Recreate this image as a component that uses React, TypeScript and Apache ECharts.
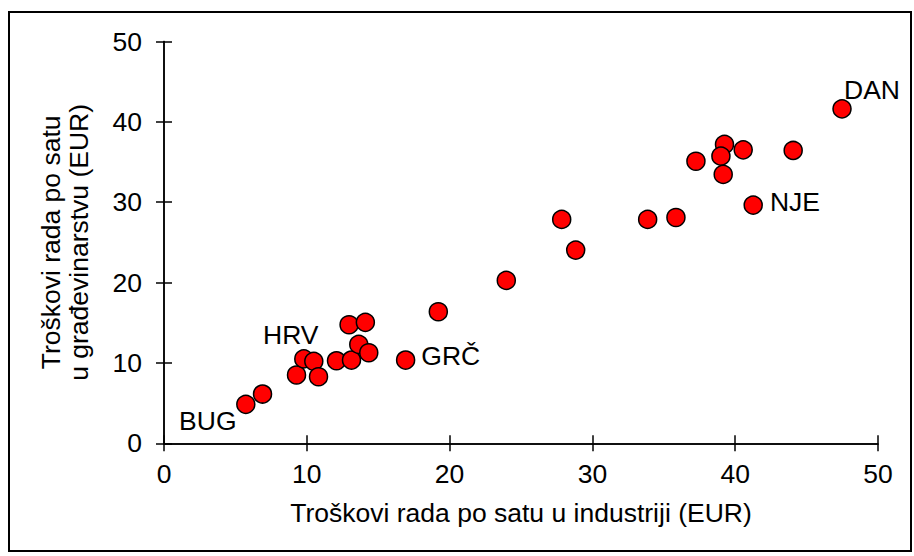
import React, { useEffect, useRef } from "react";
import * as echarts from "echarts";

const industryCost: number[] = [
  5.73, 6.9, 9.28, 9.79, 10.49, 10.82, 12.08, 12.96, 13.13, 13.64, 14.1, 14.34,
  16.92, 19.21, 23.97, 27.85, 28.83, 33.87, 35.85, 37.25, 39.25, 39.0, 40.56,
  39.16, 44.06, 41.26, 47.48,
];
const constructionCost: number[] = [
  4.85, 6.13, 8.5, 10.5, 10.2, 8.28, 10.27, 14.75, 10.36, 12.31, 15.05, 11.27,
  10.36, 16.37, 20.27, 27.86, 24.04, 27.86, 28.1, 35.1, 37.19, 35.73, 36.52,
  33.46, 36.44, 29.64, 41.62,
];
const pointLabels: string[] = [
  "BUG", "", "", "HRV", "", "", "", "", "", "", "", "",
  "GRČ", "", "", "", "", "", "", "", "", "", "",
  "", "", "NJE", "DAN",
];
const axisTicks: number[] = [0, 10, 20, 30, 40, 50];
const xTitle = "Troškovi rada po satu u industriji (EUR)";
const yTitle = "Troškovi rada po satu\nu građevinarstvu (EUR)";

const FONT = "'Liberation Sans', Arial, sans-serif";
const FS = 26.5;

const labelPlacement: Record<string, any> = {
  BUG: { position: "inside", offset: [-38, 17] },
  HRV: { position: "inside", offset: [-13, -24] },
  "GRČ": { position: "right", distance: 6, offset: [0, -4] },
  NJE: { position: "right", distance: 7, offset: [0, -3] },
  DAN: { position: "inside", offset: [30, -19] },
};

export default function App() {
  const ref = useRef<HTMLDivElement>(null);
  useEffect(() => {
    if (!ref.current) return;
    const chart = echarts.init(ref.current, undefined, { renderer: "svg" });
    const minV = axisTicks[0];
    const maxV = axisTicks[axisTicks.length - 1];
    const step = axisTicks[1] - axisTicks[0];
    const data = industryCost.map((x, i) => {
      const name = pointLabels[i];
      const item: any = { value: [x, constructionCost[i]], name };
      if (name) {
        item.label = {
          show: true,
          formatter: name,
          color: "#000",
          fontFamily: FONT,
          fontSize: FS,
          ...labelPlacement[name],
        };
      }
      return item;
    });
    const baseAxis = {
      type: "value",
      min: minV,
      max: maxV,
      interval: step,
      splitLine: { show: false },
      axisLine: { show: true, onZero: false, lineStyle: { color: "#000", width: 1.5 } },
    };
    chart.setOption({
      animation: false,
      backgroundColor: "#fff",
      graphic: [
        {
          type: "rect",
          shape: { x: 9, y: 12, width: 902, height: 539 },
          style: { fill: "none", stroke: "#000", lineWidth: 2 },
          z: 100,
        },
      ],
      grid: { left: 164, right: 36, top: 41.5, bottom: 112.7, containLabel: false },
      xAxis: [
        {
          ...baseAxis,
          position: "bottom",
          name: xTitle,
          nameLocation: "middle",
          nameGap: 56,
          nameTextStyle: { color: "#000", fontFamily: FONT, fontSize: FS },
          axisTick: { show: true, inside: false, length: 8, lineStyle: { color: "#000", width: 1.5 } },
          axisLabel: { color: "#000", fontFamily: FONT, fontSize: FS, margin: 17 },
        },
        {
          ...baseAxis,
          position: "bottom",
          axisTick: { show: true, inside: true, length: 8, lineStyle: { color: "#000", width: 1.5 } },
          axisLabel: { show: false },
        },
      ],
      yAxis: [
        {
          ...baseAxis,
          position: "left",
          name: yTitle,
          nameLocation: "middle",
          nameRotate: 90,
          nameGap: 71,
          nameTextStyle: { color: "#000", fontFamily: FONT, fontSize: FS, lineHeight: 28, align: "center" },
          axisTick: { show: true, inside: false, length: 8, lineStyle: { color: "#000", width: 1.5 } },
          axisLabel: { color: "#000", fontFamily: FONT, fontSize: FS, margin: 22 },
        },
        {
          ...baseAxis,
          position: "left",
          axisTick: { show: true, inside: true, length: 8, lineStyle: { color: "#000", width: 1.5 } },
          axisLabel: { show: false },
        },
      ],
      series: [
        {
          type: "scatter",
          xAxisIndex: 0,
          yAxisIndex: 0,
          symbol: "circle",
          symbolSize: 18,
          itemStyle: { color: "#ff0000", borderColor: "#000", borderWidth: 1.5, opacity: 1 },
          emphasis: { disabled: true },
          data,
        },
      ],
    });
    return () => chart.dispose();
  }, []);
  return (
    <div
      ref={ref}
      style={{ position: "fixed", left: 0, top: 0, width: 914, height: 556, background: "#fff" }}
    />
  );
}
